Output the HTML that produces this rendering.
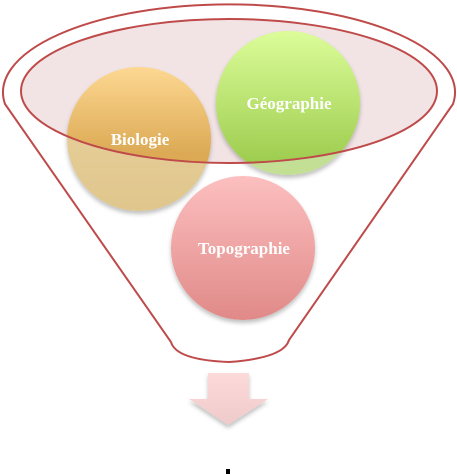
<!DOCTYPE html>
<html><head><meta charset="utf-8"><style>
html,body{margin:0;padding:0;background:#fff;}
svg{display:block;}
text{font-family:"Liberation Serif",serif;font-weight:bold;font-size:17px;fill:#fff;text-anchor:middle;}
</style></head><body>
<svg width="457" height="475" viewBox="0 0 457 475" xmlns="http://www.w3.org/2000/svg">
<defs>
<linearGradient id="gb" x1="0" y1="0" x2="0" y2="1"><stop offset="0" stop-color="#fdd892"/><stop offset="0.6" stop-color="#dcaa55"/><stop offset="1" stop-color="#d8a448"/></linearGradient>
<linearGradient id="gb2" x1="0" y1="0" x2="0" y2="1"><stop offset="0" stop-color="#ecd3a2"/><stop offset="1" stop-color="#dfc68c"/></linearGradient>
<linearGradient id="gg" x1="0" y1="0" x2="0" y2="1"><stop offset="0" stop-color="#dcfd9a"/><stop offset="1" stop-color="#98c848"/></linearGradient>
<linearGradient id="gg2" x1="0" y1="0" x2="0" y2="1"><stop offset="0" stop-color="#c8e4a0"/><stop offset="1" stop-color="#c2df94"/></linearGradient>
<linearGradient id="gt" x1="0" y1="0" x2="0" y2="1"><stop offset="0" stop-color="#fcbfbf"/><stop offset="1" stop-color="#e08a88"/></linearGradient>
<linearGradient id="ga" x1="0" y1="0" x2="0" y2="1"><stop offset="0" stop-color="#fddada"/><stop offset="1" stop-color="#efcaca"/></linearGradient>
<clipPath id="ce"><ellipse cx="229" cy="91" rx="208" ry="72"/></clipPath>
<filter id="sh" x="-20%" y="-20%" width="140%" height="140%"><feDropShadow dx="0" dy="3" stdDeviation="2" flood-color="#000" flood-opacity="0.25"/></filter>
</defs>
<path d="M5,104 A226,88 0 1 1 453,104 L289,340 Q284,358 229,362 Q176,360 171,342 Z" fill="#fff" stroke="#bf4a4a" stroke-width="2"/>
<ellipse cx="229" cy="91" rx="208" ry="72" fill="#f2e4e4"/>
<circle cx="139" cy="139" r="72" fill="url(#gb2)" filter="url(#sh)"/>
<circle cx="288" cy="103" r="72" fill="url(#gg2)" filter="url(#sh)"/>
<g clip-path="url(#ce)">
<circle cx="139" cy="139" r="72" fill="url(#gb)"/>
<circle cx="288" cy="103" r="72" fill="url(#gg)"/>
</g>
<circle cx="243" cy="248" r="72" fill="url(#gt)" filter="url(#sh)"/>
<ellipse cx="229" cy="91" rx="208" ry="72" fill="none" stroke="#bf4a4a" stroke-width="2"/>
<text x="140" y="145">Biologie</text>
<text x="289" y="109">Géographie</text>
<text x="244" y="254">Topographie</text>
<path d="M208,373 H249 V399 H268 L228,425 L189,399 H208 Z" fill="url(#ga)" filter="url(#sh)"/>
<rect x="226" y="469" width="4" height="5" fill="#000"/>
</svg>
</body></html>
